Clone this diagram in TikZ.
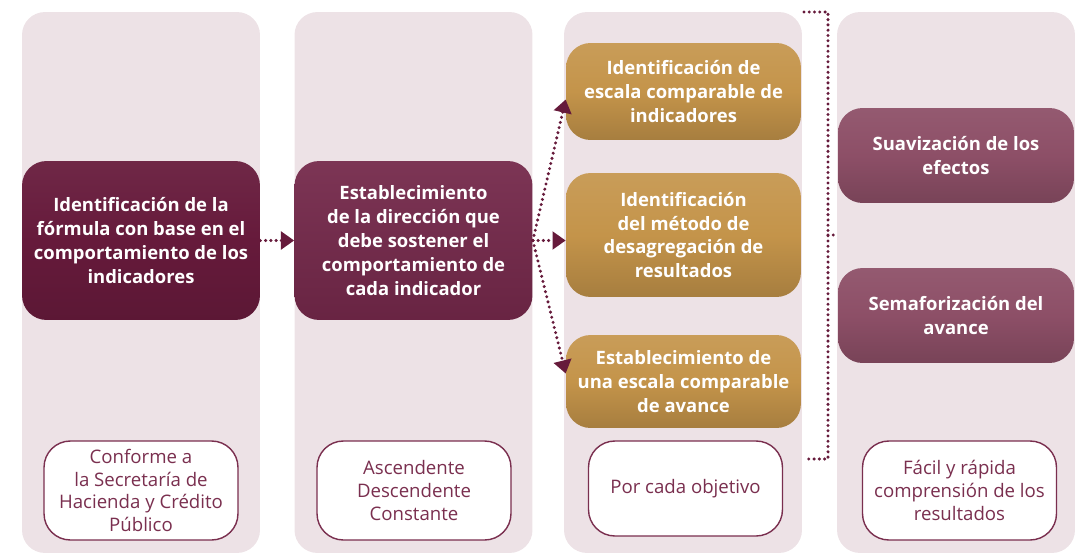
\documentclass[tikz,border=0pt]{standalone}
\usepackage{fontspec}
\setmainfont{Open Sans}
\usepackage{tikz}
\usetikzlibrary{arrows.meta,positioning,calc}
\usepackage{xcolor}
\definecolor{guinda}{HTML}{661A3B}
\definecolor{guindab}{HTML}{74284A}
\definecolor{rosa}{HTML}{8D4F67}
\definecolor{dorado}{HTML}{C4944A}
\definecolor{fondo}{HTML}{EDE2E6}
\definecolor{borde}{HTML}{7A2F4F}
\tikzstyle{colbg} = [rectangle, rounded corners=13pt, fill=fondo, minimum width=4.76cm, minimum height=10.82cm, inner sep=0pt]
\tikzstyle{box} = [rectangle, rounded corners=14pt, align=center, text=white, font=\bfseries\fontsize{10.5}{13.6}\selectfont, inner sep=0pt]
\tikzstyle{darkbox} = [box, top color=guinda!94!white, bottom color=guinda!90!black, middle color=guinda, minimum width=4.76cm, minimum height=3.18cm]
\tikzstyle{goldbox} = [box, top color=dorado!92!white, bottom color=dorado!85!black, middle color=dorado, minimum width=4.7cm]
\tikzstyle{rosebox} = [box, top color=rosa!94!white, bottom color=rosa!85!black, middle color=rosa, minimum width=4.72cm, minimum height=1.9cm]
\tikzstyle{notebox} = [rectangle, rounded corners=15pt, draw=borde, line width=0.8pt, fill=white, text=borde, align=center, font=\fontsize{10.6}{12.9}\selectfont, minimum width=3.88cm, minimum height=1.98cm, inner sep=0pt]
\tikzstyle{dotline} = [guinda, line width=1.9pt, line cap=round, dash pattern=on 0pt off 3pt]
\tikzstyle{dotarrow} = [dotline, -{Triangle[length=7.5pt,width=10pt]}]

\begin{document}
\begin{tikzpicture}[x=0.02cm, y=-0.02cm]
\useasboundingbox (0,0) rectangle (1085,554);

% Columns
\node[colbg] (col1) at (141,282.5) {};
\node[colbg] (col2) at (413.5,282.5) {};
\node[colbg] (col3) at (683,282.5) {};
\node[colbg] (col4) at (956,282.5) {};

% Main boxes
\node[darkbox] (formula) at (141,240.5) {Identificación de la\\fórmula con base en el\\comportamiento de los\\indicadores};
\node[darkbox, top color=guindab!94!white, middle color=guindab, bottom color=guindab!90!black] (direccion) at (413.5,240.5) {Establecimiento\\de la dirección que\\debe sostener el\\comportamiento de\\cada indicador};

\node[goldbox, minimum height=1.94cm] (escala) at (683.5,91.5) {Identificación de\\escala comparable de\\indicadores};
\node[goldbox, minimum height=2.48cm] (metodo) at (683.5,235) {Identificación\\del método de\\desagregación de\\resultados};
\node[goldbox, minimum height=1.86cm] (avance) at (683.5,381.5) {Establecimiento de\\una escala comparable\\de avance};

\node[rosebox] (suave) at (956,155.5) {Suavización de los\\efectos};
\node[rosebox] (semaforo) at (956,315.5) {Semaforización del\\avance};

% Notes
\node[notebox] (nota1) at (141,490.5) {Conforme a\\la Secretaría de\\Hacienda y Crédito\\Público};
\node[notebox] (nota2) at (414,490.5) {Ascendente\\Descendente\\Constante};
\node[notebox, minimum height=1.9cm] (nota3) at (685.5,488.5) {Por cada objetivo};
\node[notebox] (nota4) at (959.5,490.5) {Fácil y rápida\\comprensión de los\\resultados};

% Connectors
\draw[dotarrow] (formula.east) -- (direccion.west);
\draw[dotarrow] (direccion.east) -- ($(escala.west)+(0,8)$);
\draw[dotarrow] (direccion.east) -- (metodo.west |- direccion.east);
\draw[dotarrow] (direccion.east) -- ($(avance.west)+(0,-8)$);

% Bracket
\coordinate (brT) at (804,12);
\coordinate (brB) at (804,459);
\coordinate (brM) at (828,235);
\draw[dotline] (brT) -| (brM) |- (brB);
\draw[dotline] (brM) -- (col4.west |- brM);
\end{tikzpicture}
\end{document}
